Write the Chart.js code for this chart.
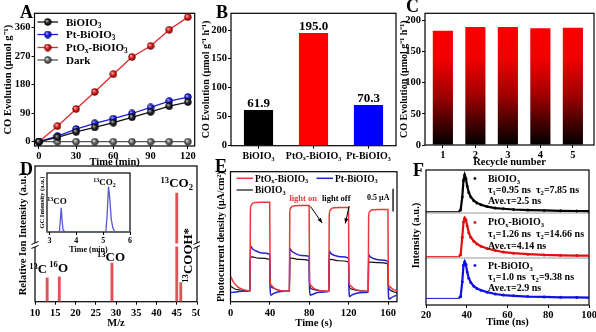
<!DOCTYPE html>
<html>
<head>
<meta charset="utf-8">
<script src="https://cdn.jsdelivr.net/npm/chart.js@4.4.1/dist/chart.umd.min.js"></script>
<style>
  body { margin: 0; background: #fff; }
  #fig { position: relative; width: 596px; height: 332px; overflow: hidden; background: #fff; }
  #fig canvas { position: absolute; }
  .tag { position: absolute; font: bold 18px "Liberation Serif", "Times New Roman", serif; line-height: 18px; }
  .tick { position: absolute; font: bold 10.5px "Liberation Serif", "Times New Roman", serif; line-height: 12px; white-space: nowrap; color: #000; }
</style>
</head>
<body>
<div id="fig">
  <canvas id="chartA" width="200" height="170" style="left:0;top:0"></canvas>
  <canvas id="chartB" width="198" height="170" style="left:200px;top:0"></canvas>
  <canvas id="chartC" width="198" height="170" style="left:398px;top:0"></canvas>
  <canvas id="chartD" width="200" height="172" style="left:0;top:160px"></canvas>
  <canvas id="chartDin" width="104" height="88" style="left:30px;top:168px"></canvas>
  <canvas id="chartE" width="198" height="172" style="left:200px;top:160px"></canvas>
  <canvas id="chartF" width="198" height="172" style="left:398px;top:160px"></canvas>
  <div class="tag" style="left:20px;top:3px">A</div>
  <div class="tag" style="left:216px;top:3px">B</div>
  <div class="tag" style="left:406px;top:-3px">C</div>
  <div class="tag" style="left:20px;top:160px">D</div>
  <div class="tag" style="left:215px;top:157px">E</div>
  <div class="tag" style="left:413px;top:161px">F</div>
</div>

<script>
  // A: CO evolution over time
  const timeMin = [0, 15, 30, 45, 60, 75, 90, 105, 120];
  const timeTicks = [0, 30, 60, 90, 120];
  const coBiOIO3 = [0, 14, 31, 45, 60, 77, 94, 112, 125];
  const coPtBiOIO3 = [0, 18, 40, 58, 73, 89, 108, 128, 141];
  const coPtOxBiOIO3 = [0, 49, 103, 157, 213, 267, 302, 353, 393];
  const coDark = [0, 0, 0, 0, 0, 0, 0, 0, 0];
  const coTicks = [0, 90, 180, 270, 360];

  // B: CO evolution rate per sample
  const rateSamples = ['BiOIO₃', 'PtOₓ-BiOIO₃', 'Pt-BiOIO₃'];
  const rateValues = [61.9, 195.0, 70.3];
  const rateTicks = [0, 50, 100, 150, 200];

  // C: recycling runs
  const recycleRuns = [1, 2, 3, 4, 5];
  const recycleRates = [183, 189, 189, 187, 188];

  // D: isotope mass spectrum + GC inset
  const massCharge = [13, 16, 29, 45, 46];
  const ionIntensity = [17.5, 18.4, 28.5, 80.1, 14.0];
  const ionNames = ['^{13}C', '^{16}O', '^{13}CO', '^{13}CO_{2}', '^{13}COOH*'];
  const massTicks = [10, 15, 20, 25, 30, 35, 40, 45, 50];
  const gcTime = [2.91, 3.37, 3.41, 3.44, 3.47, 3.51, 3.6, 5.1, 5.15, 5.2, 5.25, 5.3, 5.36, 5.44, 6];
  const gcSignal = [0, 0, 0.22, 0.41, 0.2, 0.03, 0, 0, 0.3, 0.77, 0.55, 0.22, 0.07, 0, 0];
  const gcTicks = [3, 4, 5, 6];

  // E: transient photocurrent, [time s, current]
  const currentPtOx = [[0,0.2],[3,0.15],[8,0.11],[14,0.09],[19.8,0.085],
    [20.2,0.7],[21,0.74],[23,0.76],[30,0.765],[39.8,0.765],
    [40.2,0.18],[41,0.13],[45,0.1],[52,0.085],[59.8,0.08],
    [60.2,0.68],[61,0.72],[63,0.735],[70,0.74],[79.8,0.74],
    [80.2,0.17],[81,0.13],[85,0.1],[92,0.085],[99.8,0.08],
    [100.2,0.66],[101,0.7],[103,0.72],[110,0.725],[119.8,0.725],
    [120.2,0.17],[121,0.13],[125,0.1],[132,0.085],[139.8,0.08],
    [140.2,0.65],[141,0.69],[143,0.705],[150,0.71],[159.8,0.71],
    [160.2,0.16],[161,0.12],[165,0.095],[169,0.085]];
  const currentPt = [[0,0.07],[5,0.075],[12,0.08],[19.8,0.085],
    [20.2,0.43],[22,0.41],[26,0.39],[32,0.375],[39.8,0.365],
    [40.2,0.1],[41,0.05],[43,0.06],[48,0.075],[55,0.08],[59.8,0.08],
    [60.2,0.41],[62,0.39],[66,0.37],[72,0.355],[79.8,0.35],
    [80.2,0.1],[81,0.05],[83,0.055],[88,0.07],[95,0.075],[99.8,0.08],
    [100.2,0.39],[102,0.37],[106,0.355],[112,0.345],[119.8,0.335],
    [120.2,0.1],[121,0.04],[123,0.05],[128,0.065],[135,0.07],[139.8,0.075],
    [140.2,0.36],[142,0.345],[146,0.33],[152,0.32],[159.8,0.31],
    [160.2,0.08],[161,0.02],[163,0.03],[167,0.045],[169,0.05]];
  const currentBi = [[0,0.12],[4,0.1],[10,0.09],[19.8,0.085],
    [20.2,0.34],[22,0.345],[28,0.335],[39.8,0.325],
    [40.2,0.15],[42,0.11],[48,0.09],[59.8,0.08],
    [60.2,0.33],[62,0.335],[70,0.325],[79.8,0.315],
    [80.2,0.14],[82,0.1],[90,0.085],[99.8,0.08],
    [100.2,0.32],[102,0.325],[110,0.315],[119.8,0.305],
    [120.2,0.14],[122,0.1],[130,0.085],[139.8,0.08],
    [140.2,0.305],[142,0.305],[150,0.3],[159.8,0.29],
    [160.2,0.13],[162,0.09],[166,0.075],[169,0.07]];
  const photoTicks = [0, 40, 80, 120, 160];

  // F: normalised PL decay
  const decayTime = [20, 36, 37, 37.8, 38.4, 39, 39.6, 40.2, 41, 42, 43.5, 45, 47, 50, 54, 58, 63, 70, 78, 86, 94, 100];
  const decayBi = [0, 0, 0.05, 0.4, 0.85, 1, 0.9, 0.7, 0.52, 0.4, 0.3, 0.24, 0.19, 0.14, 0.1, 0.08, 0.06, 0.045, 0.035, 0.025, 0.02, 0.015];
  const decayPtOx = [0, 0, 0.05, 0.5, 0.9, 1, 0.95, 0.8, 0.62, 0.5, 0.4, 0.33, 0.27, 0.21, 0.16, 0.12, 0.09, 0.065, 0.045, 0.035, 0.03, 0.025];
  const decayPt = [0, 0, 0.05, 0.45, 0.9, 1, 0.92, 0.72, 0.55, 0.43, 0.33, 0.27, 0.22, 0.17, 0.12, 0.09, 0.07, 0.05, 0.04, 0.03, 0.025, 0.02];
  const decayTicks = [20, 40, 60, 80, 100];
  const decayNames = ['BiOIO_{3}', 'PtO_{x}-BiOIO_{3}', 'Pt-BiOIO_{3}'];
  const tau1 = ['0.95', '1.26', '1.0'];
  const tau2 = ['7.85', '14.66', '9.38'];
  const tauAve = ['2.5', '4.14', '2.9'];

  const FONT = '"Liberation Serif", "Times New Roman", serif';

  // text with ^{..} superscripts and _{..} subscripts, y is the visual middle
  function richParts(str) {
    const parts = [];
    const re = /([\^_])\{([^}]*)\}|([^\^_]+)/g;
    let m;
    while ((m = re.exec(str))) {
      if (m[3] !== undefined) parts.push({ t: m[3], k: '' });
      else parts.push({ t: m[2], k: m[1] });
    }
    return parts;
  }

  function drawRich(ctx, str, x, y, size, color, align) {
    const parts = richParts(String(str));
    const small = size * 0.66;
    ctx.save();
    let total = 0;
    parts.forEach(p => {
      ctx.font = `bold ${p.k ? small : size}px ${FONT}`;
      p.w = ctx.measureText(p.t).width;
      total += p.w;
    });
    let cx = align === 'center' ? x - total / 2 : align === 'right' ? x - total : x;
    const base = y + size * 0.34;
    ctx.fillStyle = color;
    ctx.textAlign = 'left';
    ctx.textBaseline = 'alphabetic';
    parts.forEach(p => {
      ctx.font = `bold ${p.k ? small : size}px ${FONT}`;
      const dy = p.k === '^' ? -size * 0.36 : p.k === '_' ? size * 0.2 : 0;
      ctx.fillText(p.t, cx, base + dy);
      cx += p.w;
    });
    ctx.restore();
  }

  function sphere(light, base, dark, r) {
    const c = document.createElement('canvas');
    const s = Math.ceil(2 * r + 1);
    c.width = c.height = s;
    const g = c.getContext('2d');
    const m = s / 2;
    const grad = g.createRadialGradient(m - r * 0.35, m - r * 0.4, r * 0.1, m, m, r);
    grad.addColorStop(0, light);
    grad.addColorStop(0.45, base);
    grad.addColorStop(1, dark);
    g.fillStyle = grad;
    g.beginPath();
    g.arc(m, m, r, 0, Math.PI * 2);
    g.fill();
    g.strokeStyle = dark;
    g.lineWidth = 0.6;
    g.stroke();
    return c;
  }

  // box around the plot area, plus grey rules between stacked y axes
  const framePlugin = {
    id: 'frame',
    beforeDatasetsDraw(chart) {
      const { ctx, chartArea: a } = chart;
      ctx.save();
      Object.values(chart.scales).forEach(s => {
        if (!s.isHorizontal() && s.top > a.top + 1) {
          ctx.strokeStyle = '#9a9a9a';
          ctx.lineWidth = 1;
          ctx.beginPath();
          ctx.moveTo(a.left, s.top);
          ctx.lineTo(a.right, s.top);
          ctx.stroke();
        }
      });
      ctx.strokeStyle = '#000';
      ctx.lineWidth = 1.2;
      ctx.strokeRect(a.left, a.top, a.width, a.height);
      ctx.restore();
    }
  };

  // legend drawn inside the plot area
  const keyPlugin = {
    id: 'key',
    afterDraw(chart, args, opts) {
      const { ctx, chartArea: a } = chart;
      opts.items.forEach(it => {
        const ds = chart.data.datasets[it.ds];
        const x0 = a.left + it.x, y = a.top + it.y;
        ctx.save();
        ctx.strokeStyle = ds.borderColor;
        ctx.lineWidth = ds.borderWidth;
        ctx.beginPath();
        ctx.moveTo(x0, y);
        ctx.lineTo(x0 + opts.len, y);
        ctx.stroke();
        if (ds.pointStyle instanceof HTMLCanvasElement) {
          const img = ds.pointStyle;
          ctx.drawImage(img, x0 + opts.len / 2 - img.width / 2, y - img.height / 2);
        }
        ctx.restore();
        drawRich(ctx, ds.label, x0 + opts.len + opts.gap, y, opts.size, '#000', 'left');
      });
    }
  };

  // free text placed in data coordinates
  const notesPlugin = {
    id: 'notes',
    afterDraw(chart, args, opts) {
      const ctx = chart.ctx;
      opts.items.forEach(n => {
        const xs = chart.scales[n.xAxis || 'x'], ys = chart.scales[n.yAxis || 'y'];
        const x = xs.getPixelForValue(n.x) + (n.dx || 0);
        const y = ys.getPixelForValue(n.y) + (n.dy || 0);
        if (n.rotate) {
          ctx.save();
          ctx.translate(x, y);
          ctx.rotate(n.rotate);
          drawRich(ctx, n.text, 0, 0, n.size, n.color || '#000', n.align || 'left');
          ctx.restore();
        } else {
          drawRich(ctx, n.text, x, y, n.size, n.color || '#000', n.align || 'left');
        }
      });
    }
  };

  // arrows and scale bar in data coordinates
  const marksPlugin = {
    id: 'marks',
    afterDatasetsDraw(chart, args, opts) {
      const { ctx, scales: { x, y } } = chart;
      opts.items.forEach(m => {
        const x0 = x.getPixelForValue(m.from[0]), y0 = y.getPixelForValue(m.from[1]);
        const x1 = x.getPixelForValue(m.to[0]), y1 = y.getPixelForValue(m.to[1]);
        ctx.save();
        ctx.strokeStyle = ctx.fillStyle = '#000';
        ctx.lineWidth = m.width || 1;
        ctx.beginPath();
        ctx.moveTo(x0, y0);
        ctx.lineTo(x1, y1);
        ctx.stroke();
        if (m.arrow) {
          const ang = Math.atan2(y1 - y0, x1 - x0);
          ctx.beginPath();
          ctx.moveTo(x1, y1);
          ctx.lineTo(x1 - 5 * Math.cos(ang) + 2 * Math.sin(ang), y1 - 5 * Math.sin(ang) - 2 * Math.cos(ang));
          ctx.lineTo(x1 - 5 * Math.cos(ang) - 2 * Math.sin(ang), y1 - 5 * Math.sin(ang) + 2 * Math.cos(ang));
          ctx.closePath();
          ctx.fill();
        }
        ctx.restore();
      });
    }
  };

  // broken y axis: gap with slashes on both axes, gap in tall sticks
  const breakPlugin = {
    id: 'axisBreak',
    afterDatasetsDraw(chart, args, opts) {
      const { ctx, chartArea: a } = chart;
      const y = chart.scales.y.getPixelForValue(opts.at);
      const values = chart.data.datasets[0].data;
      ctx.save();
      ctx.fillStyle = '#fff';
      chart.getDatasetMeta(0).data.forEach((bar, i) => {
        if (values[i].y > opts.at) ctx.fillRect(bar.x - 3, y - 1.5, 6, 3);
      });
      [a.left, a.right].forEach(x => {
        ctx.fillStyle = '#fff';
        ctx.fillRect(x - 2, y - 2, 4, 4);
        ctx.strokeStyle = '#000';
        ctx.lineWidth = 1;
        [-2, 2].forEach(d => {
          ctx.beginPath();
          ctx.moveTo(x - 3.5, y + d + 1.5);
          ctx.lineTo(x + 3.5, y + d - 1.5);
          ctx.stroke();
        });
      });
      ctx.restore();
    }
  };

  // tick numbers of a vertical axis as page text, placed with the axis's own mapping
  function pageTicks(chart, axisId) {
    const canvas = chart.canvas;
    const fig = document.getElementById('fig');
    const s = chart.scales[axisId];
    s.ticks.forEach(t => {
      const el = document.createElement('div');
      el.className = 'tick';
      el.textContent = String(t.value);
      el.style.right = (fig.clientWidth - (canvas.offsetLeft + s.right - 4)) + 'px';
      el.style.top = (canvas.offsetTop + s.getPixelForValue(t.value) - 6.5) + 'px';
      fig.appendChild(el);
    });
  }

  Chart.defaults.font.family = FONT;
  Chart.defaults.font.weight = 'bold';
  Chart.defaults.font.size = 10.5;
  Chart.defaults.color = '#000';
  Chart.defaults.animation = false;
  Chart.defaults.responsive = false;
  Chart.defaults.plugins.legend.display = false;
  Chart.defaults.plugins.tooltip.enabled = false;

  function hAxis(o) {
    return {
      type: o.type || 'linear',
      position: 'bottom',
      min: o.min, max: o.max, offset: !!o.offset,
      border: { display: false },
      grid: { drawOnChartArea: false, drawTicks: o.tick !== 0, tickLength: o.tick ?? 3, tickColor: '#000', offset: false },
      ticks: { font: { size: o.size || 10.5 }, padding: o.pad ?? 1, maxRotation: 0, autoSkip: false, color: '#000' },
      title: { display: !!o.title, text: o.title, font: { size: o.titleSize || 10.5 }, padding: { top: 0, bottom: o.titlePad ?? 1 } },
      afterBuildTicks: o.values ? s => { s.ticks = o.values.map(v => ({ value: v })); } : undefined,
      afterFit: s => { s.height = o.h; s.paddingLeft = 0; s.paddingRight = 0; }
    };
  }

  function vAxis(o) {
    return {
      type: 'linear',
      position: 'left',
      min: o.min, max: o.max,
      stack: o.stack, stackWeight: o.weight,
      border: { display: false },
      grid: { drawOnChartArea: false, drawTicks: !!o.values, tickLength: 3, tickColor: '#000' },
      ticks: { display: !!o.values && !o.ownLabels, font: { size: o.size || 10.5 }, padding: 1, color: '#000' },
      title: { display: !!o.title, text: o.title, font: { size: o.titleSize || 10.5 }, padding: { top: o.titlePad ?? 0, bottom: 0 } },
      afterBuildTicks: o.values ? s => { s.ticks = o.values.map(v => ({ value: v })); } : undefined,
      afterFit: s => { s.width = o.w; s.paddingTop = 0; s.paddingBottom = 0; }
    };
  }

  // ---- A ----
  const ballBi = sphere('#b8b8b8', '#303030', '#000', 3.4);
  const ballPt = sphere('#b0b4ff', '#2828ee', '#00006e', 3.4);
  const ballPtOx = sphere('#ffb4b4', '#ec2a2a', '#7a0000', 3.4);
  const ballDark = sphere('#e0e0e0', '#7a7a7a', '#2a2a2a', 3.4);

  function timeSeries(label, values, color, ball) {
    return {
      label, borderColor: color, backgroundColor: color, borderWidth: 1.3,
      pointStyle: ball, pointRadius: 4, clip: false,
      data: timeMin.map((t, i) => ({ x: t, y: values[i] }))
    };
  }

  new Chart(document.getElementById('chartA'), {
    type: 'line',
    plugins: [framePlugin, keyPlugin],
    data: {
      datasets: [
        timeSeries('BiOIO_{3}', coBiOIO3, '#111', ballBi),
        timeSeries('Pt-BiOIO_{3}', coPtBiOIO3, '#1c1ce0', ballPt),
        timeSeries('PtO_{x}-BiOIO_{3}', coPtOxBiOIO3, '#e0282a', ballPtOx),
        timeSeries('Dark', coDark, '#555', ballDark)
      ]
    },
    options: {
      layout: { padding: { left: 0, top: 13.3, right: 2, bottom: 0 } },
      scales: {
        x: hAxis({ min: -3.5, max: 125.5, values: timeTicks, h: 24, title: 'Time (min)', titlePad: 1 }),
        y: vAxis({ min: -13.5, max: 405, values: coTicks, w: 34.5, title: 'CO Evolution (μmol g⁻¹)', titlePad: 2 })
      },
      plugins: {
        key: { len: 20.5, gap: 8, size: 11, items: [{ ds: 0, x: 3, y: 8.7 }, { ds: 1, x: 3, y: 21.2 }, { ds: 2, x: 3, y: 34.2 }, { ds: 3, x: 3, y: 46.7 }] }
      }
    }
  });

  // ---- B ----
  // value labels sit 7px above each bar, text taken from the bar's own value
  const chartB = new Chart(document.getElementById('chartB'), {
    type: 'bar',
    plugins: [framePlugin, notesPlugin],
    data: {
      labels: rateSamples,
      datasets: [{ data: rateValues, backgroundColor: ['#000', '#ff0000', '#0000ff'], barPercentage: 0.53, categoryPercentage: 1 }]
    },
    options: {
      layout: { padding: { left: 0, top: 13.3, right: 2, bottom: 0 } },
      scales: {
        x: hAxis({ type: 'category', offset: true, h: 24.3, size: 10, pad: 2 }),
        y: vAxis({ min: 0, max: 229, values: rateTicks, ownLabels: true, w: 31, title: 'CO Evolution (μmol g⁻¹ h⁻¹)', titleSize: 10, titlePad: 0 })
      },
      plugins: {
        notes: { items: rateValues.map((v, i) => ({ text: v.toFixed(1), x: i, y: v, dy: -7.3, size: 13, align: 'center' })) }
      }
    }
  });
  pageTicks(chartB, 'y');

  // ---- C ----
  new Chart(document.getElementById('chartC'), {
    type: 'bar',
    plugins: [framePlugin],
    data: {
      datasets: [{
        data: recycleRuns.map((r, i) => ({ x: r, y: recycleRates[i] })),
        barPercentage: 0.62, categoryPercentage: 1,
        backgroundColor: ctx => {
          const a = ctx.chart.chartArea;
          if (!a) return '#c00';
          const g = ctx.chart.ctx.createLinearGradient(0, a.top, 0, a.bottom);
          g.addColorStop(0, '#ff0000');
          g.addColorStop(0.35, '#f00000');
          g.addColorStop(0.62, '#a00000');
          g.addColorStop(0.86, '#3a0000');
          g.addColorStop(1, '#000000');
          return g;
        }
      }]
    },
    options: {
      layout: { padding: { left: 0, top: 13.3, right: 2, bottom: 0 } },
      scales: {
        x: hAxis({ min: 0.45, max: 5.65, values: recycleRuns, h: 25, title: 'Recycle number', titlePad: 1 }),
        y: vAxis({ min: 0, max: 211, values: rateTicks, w: 27, title: 'CO Evolution (μmol g⁻¹ h⁻¹)', titleSize: 10, titlePad: 0 })
      }
    }
  });

  // ---- D ----
  const ionPlace = [
    { dx: 0, dy: -9, align: 'right' },
    { dx: -10, dy: -9, align: 'left' },
    { dx: -1, dy: -6, align: 'center' },
    { dx: 0, dy: -10, align: 'center' },
    { dx: 7, dy: 0, align: 'left', rotate: -Math.PI / 2 }
  ];

  new Chart(document.getElementById('chartD'), {
    type: 'bar',
    plugins: [framePlugin, notesPlugin, breakPlugin],
    data: {
      datasets: [{
        data: massCharge.map((m, i) => ({ x: m, y: ionIntensity[i] })),
        backgroundColor: '#e0525a', barThickness: 2.2
      }]
    },
    options: {
      layout: { padding: { left: 0, top: 6, right: 3, bottom: 0 } },
      scales: {
        x: hAxis({ min: 10, max: 50, values: massTicks, h: 30.3, title: 'M/z', titlePad: 2, pad: 2 }),
        y: vAxis({ min: 0, max: 100, w: 35, title: 'Relative Ion Intensity (a.u.)', titleSize: 10.5, titlePad: 17 })
      },
      plugins: {
        axisBreak: { at: 41.8 },
        notes: { items: massCharge.map((m, i) => Object.assign({ text: ionNames[i], x: m, y: ionIntensity[i], size: 13 }, ionPlace[i])) }
      }
    }
  });

  new Chart(document.getElementById('chartDin'), {
    type: 'line',
    plugins: [framePlugin, notesPlugin],
    data: {
      datasets: [{
        data: gcTime.map((t, i) => ({ x: t, y: gcSignal[i] })),
        borderColor: '#5656d8', borderWidth: 1.3, pointRadius: 0
      }]
    },
    options: {
      layout: { padding: { left: 0, top: 5, right: 4, bottom: 0 } },
      scales: {
        x: hAxis({ min: 2.91, max: 6, values: gcTicks, h: 24, size: 8, pad: 1, title: 'Time (min)', titleSize: 8, titlePad: 1 }),
        y: vAxis({ min: 0, max: 1, w: 17, title: 'GC Intensity (a.u.)', titleSize: 6.5, titlePad: 8 })
      },
      plugins: {
        notes: { items: [
          { text: '^{13}CO', x: 3.28, y: 0.525, size: 9, align: 'center' },
          { text: '^{13}CO_{2}', x: 5.05, y: 0.85, size: 9, align: 'center' }
        ] }
      }
    }
  });

  // ---- E ----
  function pairSeries(label, pairs, color, width) {
    return {
      label, borderColor: color, borderWidth: width, pointRadius: 0,
      cubicInterpolationMode: 'monotone',
      data: pairs.map(([x, y]) => ({ x, y }))
    };
  }

  new Chart(document.getElementById('chartE'), {
    type: 'line',
    plugins: [framePlugin, keyPlugin, notesPlugin, marksPlugin],
    data: {
      datasets: [
        pairSeries('PtO_{x}-BiOIO_{3}', currentPtOx, '#e8383d', 1.5),
        pairSeries('Pt-BiOIO_{3}', currentPt, '#2323d0', 1.5),
        pairSeries('BiOIO_{3}', currentBi, '#111', 1.2)
      ]
    },
    options: {
      layout: { padding: { left: 0, top: 11.7, right: 1, bottom: 0 } },
      scales: {
        x: hAxis({ min: 0, max: 169, values: photoTicks, h: 30.3, title: 'Time (s)', titlePad: 2, pad: 2 }),
        y: vAxis({ min: 0, max: 1, w: 30.5, title: 'Photocurrent density (μA/cm²)', titleSize: 10, titlePad: 15.5 })
      },
      plugins: {
        key: { len: 16.5, gap: 2, size: 9.5, items: [{ ds: 0, x: 6, y: 6.6 }, { ds: 1, x: 86, y: 6.6 }, { ds: 2, x: 6, y: 18.3 }] },
        notes: { items: [
          { text: 'light on', x: 73.8, y: 0.8, size: 8.5, color: '#e8383d', align: 'center' },
          { text: 'light off', x: 107.3, y: 0.8, size: 8.5, align: 'center' },
          { text: '0.5 μA', x: 150, y: 0.8, size: 8, align: 'center' }
        ] },
        marks: { items: [
          { from: [81.2, 0.733], to: [93, 0.605], arrow: true },
          { from: [120.5, 0.736], to: [116.5, 0.602], arrow: true },
          { from: [165, 0.869], to: [165, 0.694], width: 1.3 }
        ] }
      }
    }
  });

  // ---- F ----
  const decayAxes = ['yBi', 'yPtOx', 'yPt'];
  const decayColors = ['#000', '#e01010', '#1010e0'];

  function decaySeries(values, i) {
    return {
      yAxisID: decayAxes[i], borderColor: decayColors[i], backgroundColor: decayColors[i],
      borderWidth: 2.2, pointRadius: c => (c.raw && c.raw.x > 36.5 ? 1.5 : 0), pointBorderWidth: 0,
      segment: { borderWidth: c => (c.p1.parsed.x <= 36.5 ? 1 : 2.2) },
      data: decayTime.map((t, k) => ({ x: t, y: values[k] }))
    };
  }

  const decayNotes = [];
  decayNames.forEach((name, i) => {
    const yAxis = decayAxes[i];
    decayNotes.push({ text: '•', x: 44, y: 0.9, size: 11, color: decayColors[i], align: 'center', yAxis });
    decayNotes.push({ text: name, x: 50.4, y: 0.9, size: 10, yAxis });
    decayNotes.push({ text: `τ_{1}=${tau1[i]} ns  τ_{2}=${tau2[i]} ns`, x: 50.4, y: 0.6, size: 10, yAxis });
    decayNotes.push({ text: `Ave.τ=${tauAve[i]} ns`, x: 50.4, y: 0.29, size: 10, yAxis });
  });

  new Chart(document.getElementById('chartF'), {
    type: 'line',
    plugins: [framePlugin, notesPlugin],
    data: { datasets: [decaySeries(decayBi, 0), decaySeries(decayPtOx, 1), decaySeries(decayPt, 2)] },
    options: {
      layout: { padding: { left: 0, top: 10, right: 7, bottom: 0 } },
      scales: {
        x: hAxis({ min: 20, max: 100, values: decayTicks, h: 27, title: 'Time (ns)', titlePad: 3, pad: 1 }),
        yPt: vAxis({ min: -0.18, max: 1.1, w: 28, stack: 'pl', weight: 47 }),
        yPtOx: vAxis({ min: -0.034, max: 1.13, w: 28, stack: 'pl', weight: 45, title: 'Intensity (a.u.)', titlePad: 12 }),
        yBi: vAxis({ min: -0.035, max: 1.136, w: 28, stack: 'pl', weight: 43 })
      },
      plugins: { notes: { items: decayNotes } }
    }
  });
</script>
</body>
</html>
